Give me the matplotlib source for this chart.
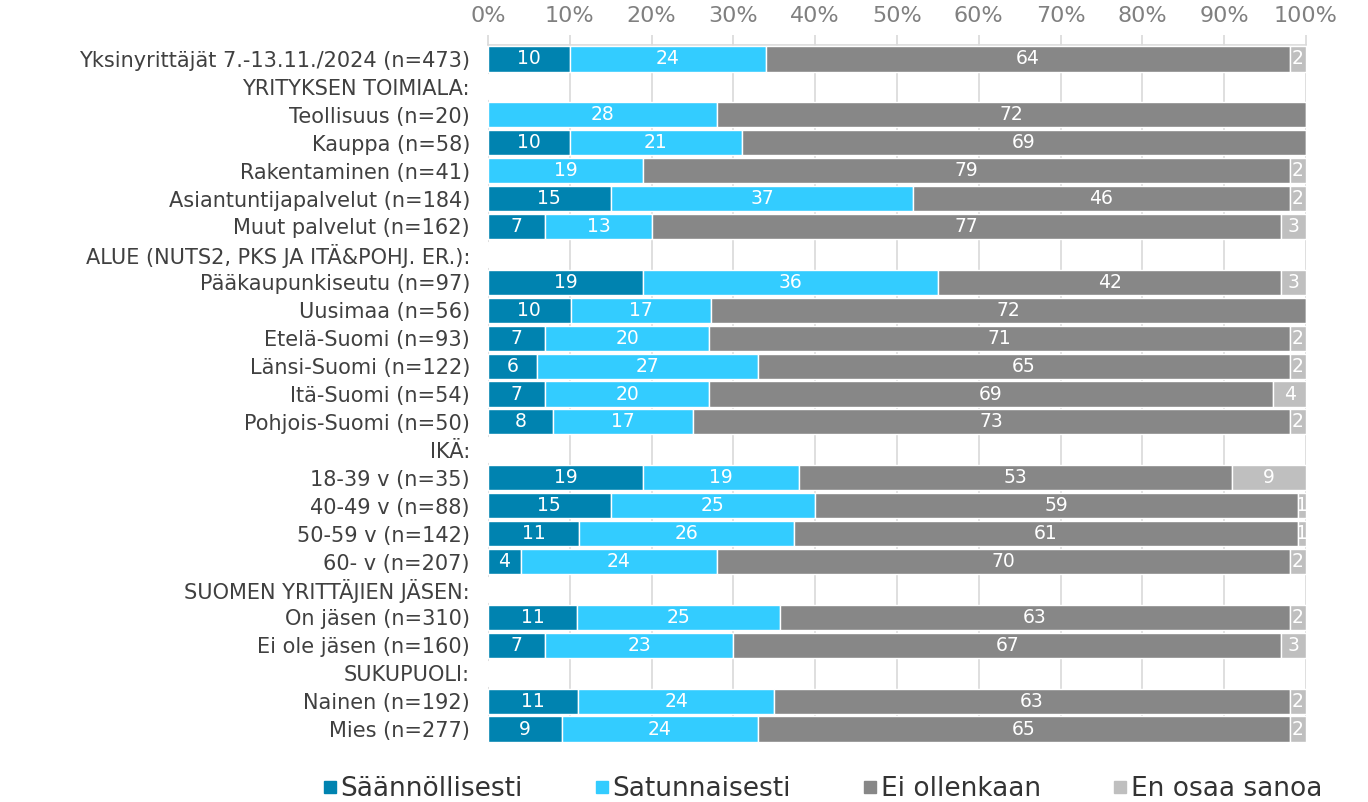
import matplotlib
matplotlib.use("Agg")
import matplotlib.pyplot as plt
from matplotlib.lines import Line2D
import numpy as np

plt.rcParams['font.family'] = ['DejaVu Sans']

categories = [
    "Yksinyrittäjät 7.-13.11./2024 (n=473)",
    "YRITYKSEN TOIMIALA:",
    "Teollisuus (n=20)",
    "Kauppa (n=58)",
    "Rakentaminen (n=41)",
    "Asiantuntijapalvelut (n=184)",
    "Muut palvelut (n=162)",
    "ALUE (NUTS2, PKS JA ITÄ&POHJ. ER.):",
    "Pääkaupunkiseutu (n=97)",
    "Uusimaa (n=56)",
    "Etelä-Suomi (n=93)",
    "Länsi-Suomi (n=122)",
    "Itä-Suomi (n=54)",
    "Pohjois-Suomi (n=50)",
    "IKÄ:",
    "18-39 v (n=35)",
    "40-49 v (n=88)",
    "50-59 v (n=142)",
    "60- v (n=207)",
    "SUOMEN YRITTÄJIEN JÄSEN:",
    "On jäsen (n=310)",
    "Ei ole jäsen (n=160)",
    "SUKUPUOLI:",
    "Nainen (n=192)",
    "Mies (n=277)",
]

series_names = ["Säännöllisesti", "Satunnaisesti", "Ei ollenkaan", "En osaa sanoa"]

# Header rows carry no values (0 everywhere)
saannollisesti = [10, 0, 0, 10, 0, 15, 7, 0, 19, 10, 7, 6, 7, 8, 0, 19, 15, 11, 4, 0, 11, 7, 0, 11, 9]
satunnaisesti  = [24, 0, 28, 21, 19, 37, 13, 0, 36, 17, 20, 27, 20, 17, 0, 19, 25, 26, 24, 0, 25, 23, 0, 24, 24]
ei_ollenkaan   = [64, 0, 72, 69, 79, 46, 77, 0, 42, 72, 71, 65, 69, 73, 0, 53, 59, 61, 70, 0, 63, 67, 0, 63, 65]
en_osaa_sanoa  = [2, 0, 0, 0, 2, 2, 3, 0, 3, 0, 2, 2, 4, 2, 0, 9, 1, 1, 2, 0, 2, 3, 0, 2, 2]

colors = ["#0083B0", "#33CCFF", "#878787", "#BFBFBF"]

values = np.array([saannollisesti, satunnaisesti, ei_ollenkaan, en_osaa_sanoa], dtype=float)
totals = values.sum(axis=0)
shares = np.divide(values, totals, out=np.zeros_like(values), where=totals > 0) * 100

fig = plt.figure(figsize=(13.68, 8.02), dpi=100)
ax = fig.add_axes([488 / 1368, 1 - 743 / 802, 818 / 1368, 698 / 802])

y = np.arange(len(categories))
left = np.zeros(len(categories))
for i, (name, col) in enumerate(zip(series_names, colors)):
    bars = ax.barh(y, shares[i], left=left, height=0.9, color=col,
                   edgecolor="white", linewidth=1.0, zorder=3, label=name)
    for j, rect in enumerate(bars):
        v = values[i][j]
        if v > 0:
            ax.text(left[j] + shares[i][j] / 2, y[j], f"{int(v)}",
                    ha="center", va="center", color="white", fontsize=13.5, zorder=4)
    left += shares[i]

ax.set_xlim(0, 100)
ax.set_ylim(len(categories) - 0.5, -0.5)
ax.set_yticks(y)
ax.set_yticklabels(categories, fontsize=15, color="#404040")
ax.tick_params(axis="y", length=0, pad=13)

ax.xaxis.tick_top()
ax.set_xticks(np.arange(0, 101, 10))
ax.set_xticklabels([f"{t}%" for t in range(0, 101, 10)], fontsize=16, color="#808080")
ax.tick_params(axis="x", length=7, color="#D9D9D9", width=1.2, pad=7)
ax.grid(axis="x", color="#D9D9D9", linewidth=1.2, zorder=0)

for s in ["left", "right", "bottom"]:
    ax.spines[s].set_visible(False)
ax.spines["top"].set_color("#D9D9D9")
ax.spines["top"].set_linewidth(1.2)

handles = [Line2D([0], [0], marker="s", linestyle="none", markersize=9,
                  markerfacecolor=c, markeredgecolor=c) for c in colors]
fig.legend(handles, series_names, loc="center", bbox_to_anchor=(0.601, 0.016),
           ncol=4, frameon=False, fontsize=19, handletextpad=0.1,
           columnspacing=2.7, handlelength=0.6, labelcolor="#333333")

fig.savefig("out.png", dpi=100)
